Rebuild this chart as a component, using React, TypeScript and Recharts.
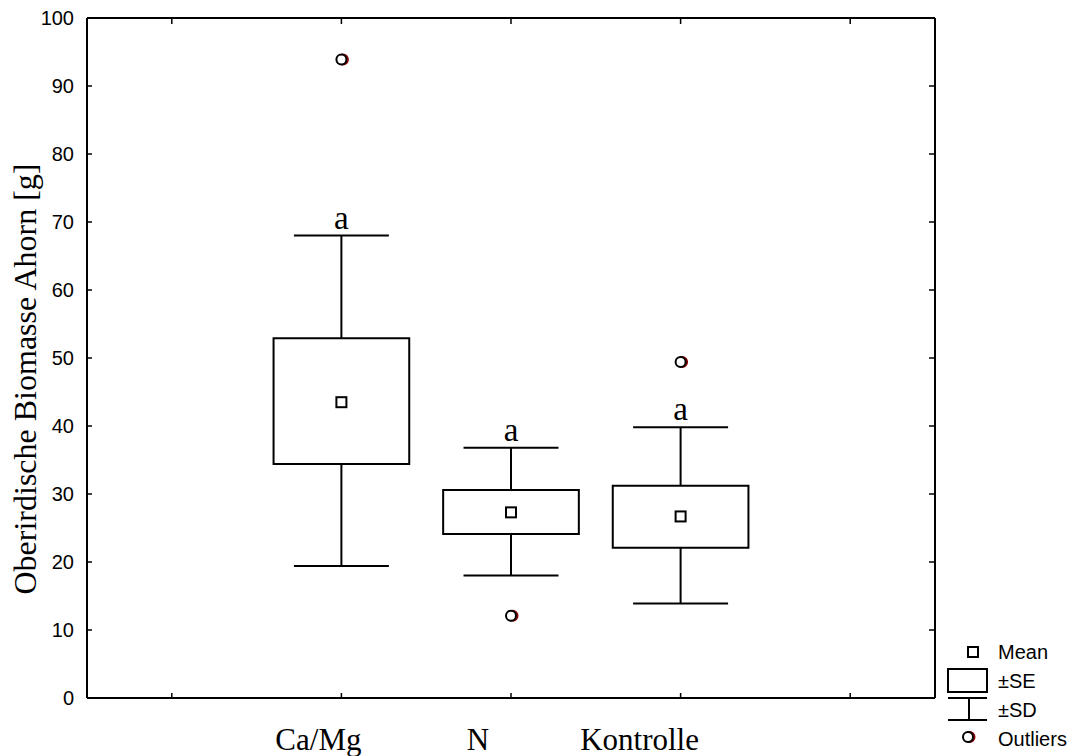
import React from "react";
import {
  ComposedChart,
  XAxis,
  YAxis,
  Scatter,
  ReferenceArea,
  ReferenceLine,
  Legend,
  Label,
} from "recharts";

// groups and their slot on the x axis (slots 0 and 4 stay empty)
const categories = ["Ca/Mg", "N", "Kontrolle"];
const catPos = [1, 2, 3];
const means = [43.5, 27.3, 26.7];
const seLow = [34.4, 24.1, 22.1];
const seHigh = [52.9, 30.6, 31.2];
const sdLow = [19.4, 18.0, 13.9];
const sdHigh = [68.0, 36.8, 39.8];
const outliers = [93.9, 12.1, 49.4];
const groupLetters = ["a", "a", "a"];
const xTicks = [0, 1, 2, 3, 4];
const yTicks = [0, 10, 20, 30, 40, 50, 60, 70, 80, 90, 100];

const SERIF = '"Liberation Serif", "Times New Roman", serif';
const SANS = '"Liberation Sans", Arial, sans-serif';
const BOX_HALF = 0.4;
const CAP_HALF = 0.28;

const meanData = catPos.map((x, i) => ({ x, y: means[i] }));
const outlierData = catPos.map((x, i) => ({ x, y: outliers[i] }));
const letterData = catPos.map((x, i) => ({ x, y: sdHigh[i], t: groupLetters[i] }));

// hand-placed look of the original category labels
const labelShift: Record<string, number> = { "Ca/Mg": -23, N: -33, Kontrolle: -41 };

const CategoryTick = (props: any) => {
  const { x, payload } = props;
  const idx = catPos.indexOf(payload.value);
  if (idx < 0) return <g />;
  const name = categories[idx];
  return (
    <text
      x={x + (labelShift[name] || 0)}
      y={750}
      textAnchor="middle"
      fontFamily={SERIF}
      fontSize={31}
      fill="#000"
    >
      {name}
    </text>
  );
};

const NoLabel = () => <g />;

const MeanShape = (props: any) => (
  <rect
    x={props.cx - 5}
    y={props.cy - 5}
    width={10}
    height={10}
    fill="#fff"
    stroke="#000"
    strokeWidth={2}
  />
);

const OutlierShape = (props: any) => (
  <g>
    <circle cx={props.cx + 1.5} cy={props.cy} r={5} fill="none" stroke="#8b0000" strokeWidth={2} />
    <circle cx={props.cx} cy={props.cy} r={5} fill="#fff" stroke="#000" strokeWidth={2} />
  </g>
);

const LetterShape = (props: any) => (
  <text
    x={props.cx}
    y={props.cy - 7}
    textAnchor="middle"
    fontFamily={SERIF}
    fontSize={33}
    fill="#000"
  >
    {props.payload.t}
  </text>
);

const LegendBox = () => (
  <svg width={131} height={110} style={{ display: "block" }}>
    <rect x={28} y={7} width={10} height={10} fill="#fff" stroke="#000" strokeWidth={2} />
    <rect x={8} y={29} width={39} height={23} fill="#fff" stroke="#000" strokeWidth={2} />
    <line x1={8} x2={47} y1={58} y2={58} stroke="#000" strokeWidth={2} />
    <line x1={8} x2={47} y1={80} y2={80} stroke="#000" strokeWidth={2} />
    <line x1={29} x2={29} y1={58} y2={80} stroke="#000" strokeWidth={2} />
    <circle cx={29.5} cy={97} r={5} fill="none" stroke="#8b0000" strokeWidth={2} />
    <circle cx={28} cy={97} r={5} fill="#fff" stroke="#000" strokeWidth={2} />
    <g fontFamily={SANS} fontSize={20} fill="#000">
      <text x={58} y={19}>Mean</text>
      <text x={58} y={48}>±SE</text>
      <text x={58} y={77}>±SD</text>
      <text x={58} y={106}>Outliers</text>
    </g>
  </svg>
);

const axisStroke = { stroke: "#000", strokeWidth: 2 };
const tickStroke = { stroke: "#000", strokeWidth: 1.5 };

export default function App() {
  return (
    <div
      style={{
        position: "absolute",
        left: 0,
        top: 0,
        width: 1071,
        height: 756,
        overflow: "hidden",
        background: "#fff",
      }}
    >
      <ComposedChart
        width={1071}
        height={756}
        margin={{ top: 17, right: 135, bottom: 0, left: 0 }}
      >
        <XAxis
          type="number"
          dataKey="x"
          domain={[-0.5, 4.5]}
          ticks={xTicks}
          interval={0}
          height={58}
          tickSize={-5}
          tickMargin={0}
          axisLine={axisStroke}
          tickLine={tickStroke}
          tick={<CategoryTick />}
          allowDataOverflow
        />
        <XAxis
          xAxisId="top"
          orientation="top"
          type="number"
          dataKey="x"
          domain={[-0.5, 4.5]}
          ticks={xTicks}
          interval={0}
          height={1}
          tickSize={-6}
          axisLine={axisStroke}
          tickLine={tickStroke}
          tick={<NoLabel />}
          allowDataOverflow
        />
        <YAxis
          type="number"
          dataKey="y"
          domain={[0, 100]}
          ticks={yTicks}
          interval={0}
          width={87}
          tickSize={-5}
          tickMargin={18}
          axisLine={axisStroke}
          tickLine={tickStroke}
          tick={{ fontFamily: SANS, fontSize: 20, fill: "#000" }}
        >
          <Label
            content={(p: any) => {
              const vb = p.viewBox || { x: 0, y: 18, width: 87, height: 680 };
              const cx = vb.x + 36;
              const cy = vb.y + vb.height / 2 + 21;
              return (
                <text
                  x={cx}
                  y={cy}
                  transform={`rotate(-90 ${cx} ${cy})`}
                  textAnchor="middle"
                  fontFamily={SERIF}
                  fontSize={32}
                  fill="#000"
                >
                  Oberirdische Biomasse Ahorn [g]
                </text>
              );
            }}
          />
        </YAxis>
        <YAxis
          yAxisId="right"
          orientation="right"
          type="number"
          dataKey="y"
          domain={[0, 100]}
          ticks={yTicks}
          interval={0}
          width={1}
          tickSize={-6}
          axisLine={axisStroke}
          tickLine={tickStroke}
          tick={<NoLabel />}
          allowDataOverflow
        />

        {catPos.map((x, i) => (
          <ReferenceLine
            key={`wu${i}`}
            segment={[
              { x, y: seHigh[i] },
              { x, y: sdHigh[i] },
            ]}
            stroke="#000"
            strokeWidth={2}
          />
        ))}
        {catPos.map((x, i) => (
          <ReferenceLine
            key={`wl${i}`}
            segment={[
              { x, y: sdLow[i] },
              { x, y: seLow[i] },
            ]}
            stroke="#000"
            strokeWidth={2}
          />
        ))}
        {catPos.map((x, i) => (
          <ReferenceLine
            key={`ct${i}`}
            segment={[
              { x: x - CAP_HALF, y: sdHigh[i] },
              { x: x + CAP_HALF, y: sdHigh[i] },
            ]}
            stroke="#000"
            strokeWidth={2}
          />
        ))}
        {catPos.map((x, i) => (
          <ReferenceLine
            key={`cb${i}`}
            segment={[
              { x: x - CAP_HALF, y: sdLow[i] },
              { x: x + CAP_HALF, y: sdLow[i] },
            ]}
            stroke="#000"
            strokeWidth={2}
          />
        ))}
        {catPos.map((x, i) => (
          <ReferenceArea
            key={`box${i}`}
            x1={x - BOX_HALF}
            x2={x + BOX_HALF}
            y1={seLow[i]}
            y2={seHigh[i]}
            fill="#fff"
            fillOpacity={1}
            stroke="#000"
            strokeWidth={2}
          />
        ))}

        <Scatter data={meanData} dataKey="y" shape={MeanShape} isAnimationActive={false} />
        <Scatter data={outlierData} dataKey="y" shape={OutlierShape} isAnimationActive={false} />
        <Scatter data={letterData} dataKey="y" shape={LetterShape} isAnimationActive={false} />
        {/* invisible series that ties the mirrored frame axes to the data */}
        <Scatter
          data={meanData}
          dataKey="y"
          xAxisId="top"
          yAxisId="right"
          shape={() => <g />}
          isAnimationActive={false}
        />

        <Legend
          layout="horizontal"
          verticalAlign="middle"
          align="center"
          content={() => <LegendBox />}
          wrapperStyle={{ left: 940, top: 640, width: 131, height: 110 }}
        />
      </ComposedChart>
    </div>
  );
}
